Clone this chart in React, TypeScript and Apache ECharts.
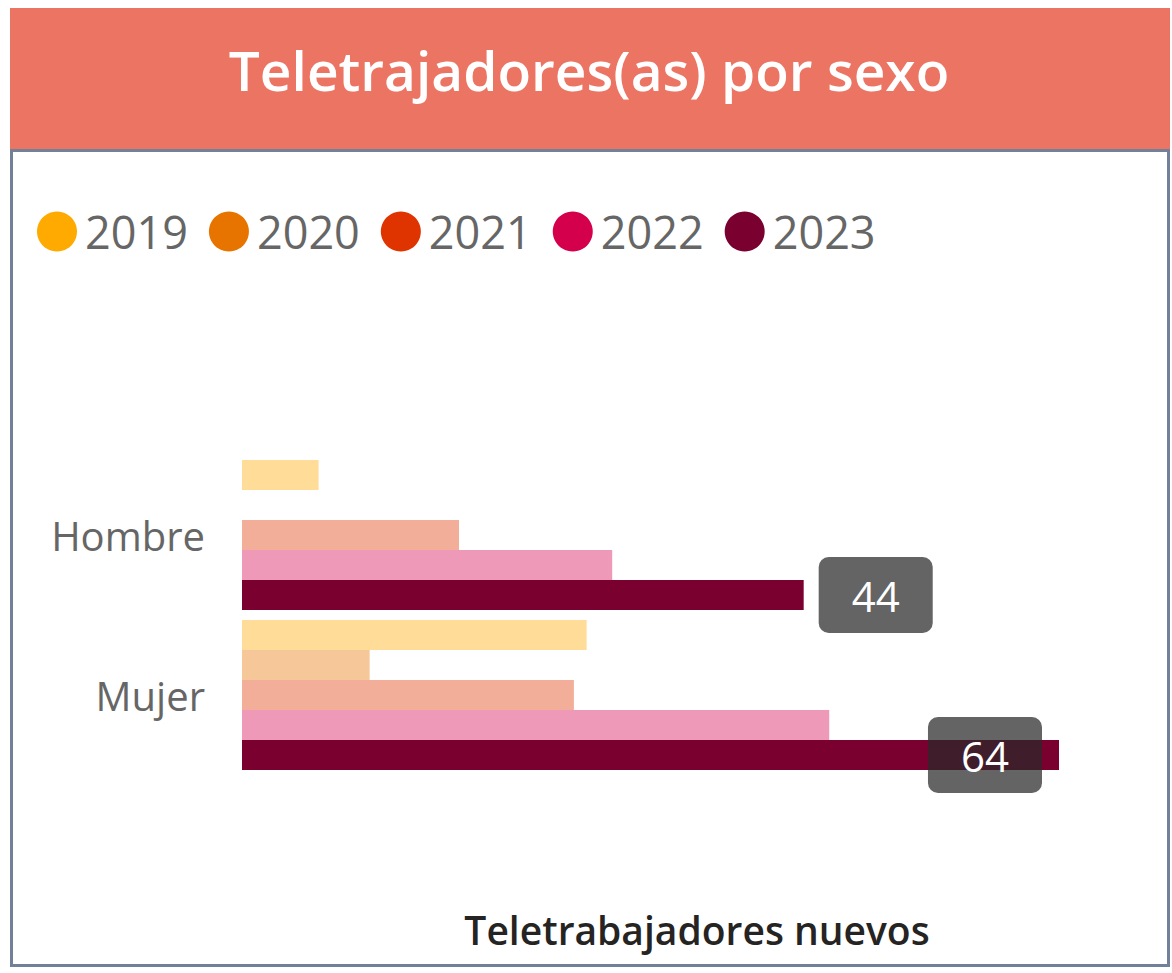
import React, { useEffect, useRef } from "react";
import * as echarts from "echarts";

const categories = ["Hombre", "Mujer"];
const years = ["2019", "2020", "2021", "2022", "2023"];
const values2019 = [6, 27];
const values2020 = [null, 10];
const values2021 = [17, 26];
const values2022 = [29, 46];
const values2023 = [44, 64];
const seriesValues = [values2019, values2020, values2021, values2022, values2023];

const solidColors = ["#FFAA00", "#E87400", "#E03400", "#D4004C", "#7A0030"];
const barColors = [
  "rgba(255,170,0,0.4)",
  "rgba(232,116,0,0.4)",
  "rgba(224,52,0,0.4)",
  "rgba(212,0,76,0.4)",
  "#7A0030",
];
const FONT = "'Open Sans', 'Noto Sans', sans-serif";

export default function App() {
  const ref = useRef<HTMLDivElement>(null);
  useEffect(() => {
    if (!ref.current) return;
    const chart = echarts.init(ref.current, null, { renderer: "svg" });
    const labelStyle = {
      show: true,
      color: "#ffffff",
      fontSize: 42,
      lineHeight: 44,
      fontFamily: FONT,
      backgroundColor: "rgba(40,40,40,0.72)",
      borderRadius: 10,
      padding: [16, 33],
      formatter: "{c}",
    };
    const series = years.map((y, i) => {
      const vals = seriesValues[i];
      const isLast = i === years.length - 1;
      return {
        name: y,
        type: "bar",
        barWidth: 30,
        barGap: "0%",
        itemStyle: { color: barColors[i] },
        data: vals.map((v, j) => {
          if (!isLast) return v === null ? "-" : v;
          const inside = j === vals.length - 1;
          return {
            value: v,
            label: {
              ...labelStyle,
              position: inside ? "insideRight" : "right",
              distance: inside ? 17 : 15,
            },
          };
        }),
      };
    });
    chart.setOption({
      animation: false,
      backgroundColor: "#ffffff",
      legend: {
        left: 32,
        top: 204,
        icon: "circle",
        itemWidth: 40,
        itemHeight: 40,
        itemGap: 21,
        textStyle: { fontSize: 45, color: "#666666", fontFamily: FONT, padding: [0, 0, 0, 3] },
        data: years.map((y, i) => ({ name: y, itemStyle: { color: solidColors[i], opacity: 1 } })),
        selectedMode: false,
      },
      grid: { left: 242, width: 817, top: 455, height: 320 },
      xAxis: { type: "value", min: 0, max: 64, show: false },
      yAxis: {
        type: "category",
        data: categories,
        inverse: true,
        axisLine: { show: false },
        axisTick: { show: false },
        axisLabel: { fontSize: 40, color: "#666666", fontFamily: FONT, margin: 37 },
      },
      graphic: [
        {
          type: "rect",
          shape: { x: 10, y: 8, width: 1160, height: 141 },
          style: { fill: "#EC7463" },
          z: 0,
        },
        {
          type: "rect",
          shape: { x: 11.5, y: 150.5, width: 1157, height: 815 },
          style: { fill: "none", stroke: "#72809A", lineWidth: 3 },
          z: 0,
        },
        {
          type: "text",
          x: 589,
          y: 69,
          style: {
            text: "Teletrajadores(as) por sexo",
            fill: "#ffffff",
            fontSize: 55,
            fontWeight: 600,
            fontFamily: FONT,
            textAlign: "center",
            textVerticalAlign: "middle",
          },
          z: 10,
        },
        {
          type: "text",
          x: 697,
          y: 929,
          style: {
            text: "Teletrabajadores nuevos",
            fill: "#252423",
            fontSize: 39,
            fontWeight: 600,
            fontFamily: FONT,
            textAlign: "center",
            textVerticalAlign: "middle",
          },
          z: 10,
        },
      ],
      series,
    });
    return () => chart.dispose();
  }, []);
  return (
    <div
      ref={ref}
      style={{ position: "absolute", left: 0, top: 0, width: 1172, height: 973 }}
    />
  );
}
